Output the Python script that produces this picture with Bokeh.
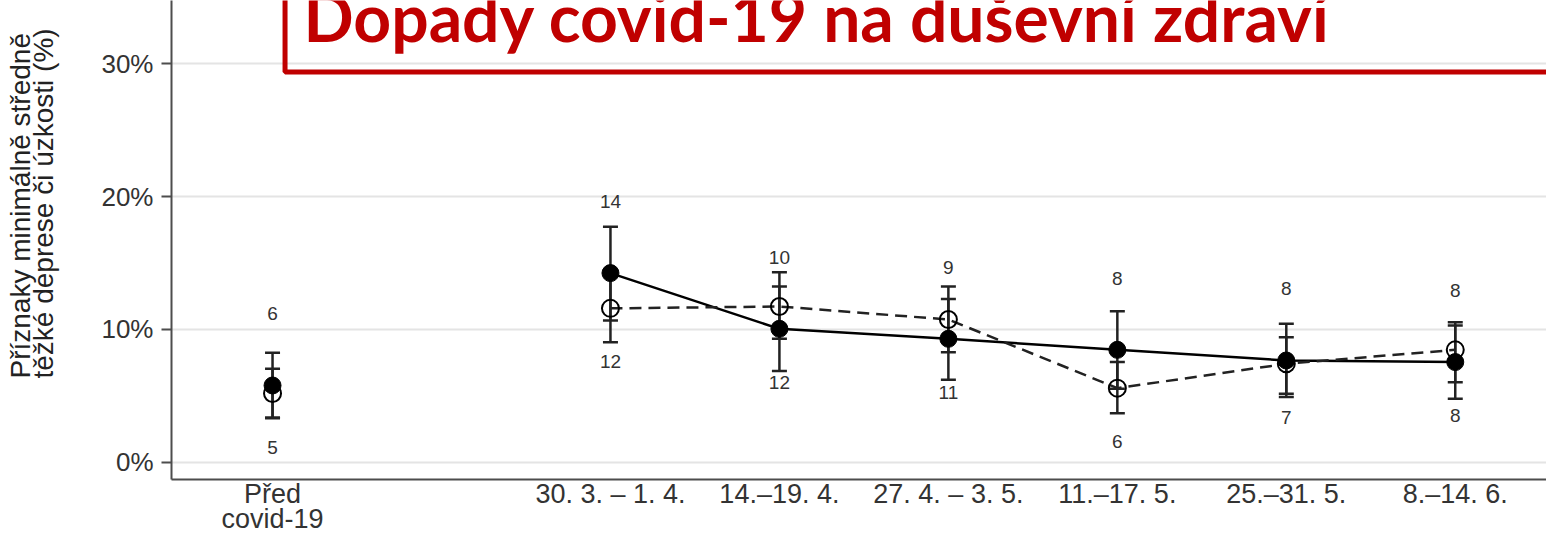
from bokeh.plotting import figure
from bokeh.models import (Range1d, FixedTicker, Label, BoxAnnotation, Title,
                          ColumnDataSource, Whisker, TeeHead, LinearAxis)
from bokeh.embed import file_html
from bokeh.resources import INLINE
from bokeh.core.properties import value

# ---------------- data ----------------
categories = ["Před\ncovid-19", "30. 3. – 1. 4.", "14.–19. 4.", "27. 4. – 3. 5.",
              "11.–17. 5.", "25.–31. 5.", "8.–14. 6."]

filled_vals = [5.79, 14.24, 10.05, 9.30, 8.47, 7.67, 7.55]
filled_lo = [3.39, 10.68, 6.88, 6.22, 5.54, 4.92, 4.79]
filled_hi = [8.26, 17.73, 13.23, 12.29, 11.38, 10.43, 10.30]

open_vals = [5.19, 11.59, 11.73, 10.75, 5.59, 7.42, 8.47]
open_lo = [3.32, 9.05, 9.30, 8.29, 3.71, 5.17, 6.03]
open_hi = [7.05, 14.11, 14.31, 13.23, 7.55, 9.42, 10.55]

top_labels = ["6", "14", "10", "9", "8", "8", "8"]
bottom_labels = ["5", "12", "12", "11", "6", "7", "8"]

y_ticks = [0, 10, 20, 30]

title_text = "Dopady covid-19 na duševní zdraví"
ylabel_text = "Příznaky minimálně středně\ntěžké deprese či úzkosti (%)"

# ---------------- layout helpers ----------------
GAP = 1  # empty slot between "before" and the survey waves
xpos = [i + (GAP if i > 0 else 0) for i in range(len(categories))]
top_y = [v + 5.39 for v in filled_vals]
bot_y = [min(a, b) - 4.03 for a, b in zip(filled_vals, open_vals)]

src = ColumnDataSource(dict(
    x=xpos, f=filled_vals, flo=filled_lo, fhi=filled_hi,
    o=open_vals, olo=open_lo, ohi=open_hi,
    ty=top_y, by=bot_y, tl=top_labels, bl=bottom_labels))
src_wave = ColumnDataSource(dict(x=xpos[1:], f=filled_vals[1:], o=open_vals[1:]))

AX = "Liberation Sans"
p = figure(width=1546, height=537,
           x_range=Range1d(-0.598, 7.54), y_range=Range1d(-1.28, 34.74),
           output_backend="svg", toolbar_location=None,
           min_border_left=171, min_border_right=0, min_border_top=0,
           min_border_bottom=58)
p.outline_line_color = None
p.background_fill_color = "white"
p.border_fill_color = "white"

# grid
p.xgrid.visible = False
p.ygrid.ticker = FixedTicker(ticks=y_ticks)
p.ygrid.grid_line_color = "#e4e4e4"
p.ygrid.grid_line_width = 2

# y axis
p.yaxis.ticker = FixedTicker(ticks=y_ticks)
p.yaxis.major_label_overrides = {t: f"{t}%" for t in y_ticks}
p.yaxis.axis_line_color = "#4d4d4d"
p.yaxis.axis_line_width = 2
p.yaxis.major_tick_line_color = "#4d4d4d"
p.yaxis.major_tick_line_width = 2
p.yaxis.major_tick_out = 10
p.yaxis.major_tick_in = 0
p.yaxis.minor_tick_line_color = None
p.yaxis.major_label_standoff = 8
p.yaxis.major_label_text_font = AX
p.yaxis.major_label_text_font_size = "26px"
p.yaxis.major_label_text_color = "#333333"

# invisible spacer between tick labels and the rotated y title
spacer = LinearAxis(ticker=FixedTicker(ticks=[y_ticks[0]]),
                    major_label_overrides={y_ticks[0]: ""},
                    axis_line_color=None, major_tick_line_color=None,
                    minor_tick_line_color=None,
                    major_tick_out=38, major_tick_in=0, minor_tick_out=0,
                    major_label_standoff=0)
p.add_layout(spacer, "left")
p.add_layout(Title(text=ylabel_text, align="left", offset=101,
                   vertical_align="middle", standoff=0,
                   text_font=AX, text_font_size="28px",
                   text_font_style="normal", text_color="#222222",
                   text_line_height=0.76), "left")

# x axis
p.xaxis.ticker = FixedTicker(ticks=xpos)
p.xaxis.major_label_overrides = {x: c for x, c in zip(xpos, categories)}
p.xaxis.axis_line_color = "#4d4d4d"
p.xaxis.axis_line_width = 2
p.xaxis.major_tick_line_color = None
p.xaxis.major_tick_out = 0
p.xaxis.major_tick_in = 0
p.xaxis.minor_tick_line_color = None
p.xaxis.major_label_standoff = -1
p.xaxis.major_label_text_font = AX
p.xaxis.major_label_text_font_size = "27px"
p.xaxis.major_label_text_line_height = 0.85
p.xaxis.major_label_text_color = "#333333"

# error bars
for lo, hi in (("flo", "fhi"), ("olo", "ohi")):
    w = Whisker(source=src, base="x", lower=lo, upper=hi, dimension="height",
                line_color="#222222", line_width=2.5,
                upper_head=TeeHead(size=15, line_color="#222222", line_width=2.5),
                lower_head=TeeHead(size=15, line_color="#222222", line_width=2.5))
    p.add_layout(w)

# lines (survey waves only)
p.line("x", "f", source=src_wave, line_color="black", line_width=2.5)
p.line("x", "o", source=src_wave, line_color="#222222", line_width=2.5,
       line_dash="12 7")

# markers
p.scatter("x", "o", source=src, marker="circle", size=17, fill_color=None,
          line_color="black", line_width=2)
p.scatter("x", "f", source=src, marker="circle", size=17, fill_color="black",
          line_color="black", line_width=1)

# value labels
p.text("x", "ty", text="tl", source=src, text_align="center",
       text_baseline="middle", text_font=value(AX), text_font_size="19px",
       text_color="#333333")
p.text("x", "by", text="bl", source=src, text_align="center",
       text_baseline="middle", text_font=value(AX), text_font_size="19px",
       text_color="#333333")

# red title box
p.add_layout(BoxAnnotation(left=0.074, right=8.5, bottom=29.36, top=45,
                           fill_color=None, fill_alpha=0,
                           line_color="#C00000", line_width=5, line_alpha=1))
p.add_layout(Label(x=0.183, y=33.57, text=title_text, text_font="Lato",
                   text_font_style="bold", text_font_size="66px",
                   text_color="#C00000", text_baseline="alphabetic"))

open("out.html", "w").write(file_html(p, INLINE))
